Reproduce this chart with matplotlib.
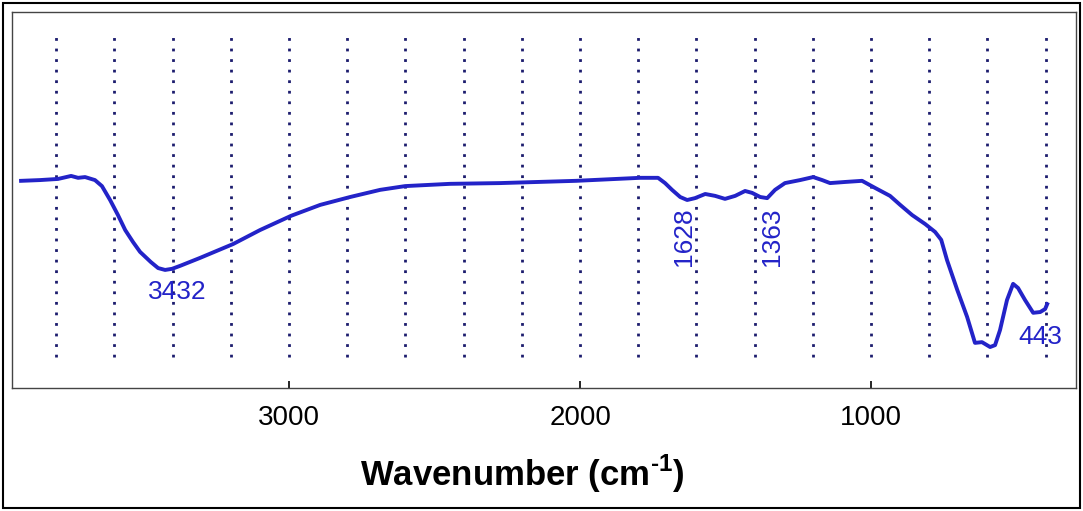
import numpy as np
import matplotlib
matplotlib.use("agg")
import matplotlib.pyplot as plt
from matplotlib.patches import Rectangle

plt.rcParams['font.family'] = ['Liberation Sans', 'DejaVu Sans']
plt.rcParams['mathtext.fontset'] = 'custom'
plt.rcParams['mathtext.rm'] = 'Liberation Sans:bold'
plt.rcParams['mathtext.bf'] = 'Liberation Sans:bold'

# FTIR spectrum (wavenumber cm-1, transmittance a.u.)
wavenumber = [3921, 3856, 3794, 3749, 3725, 3701, 3667, 3643, 3615, 3588,
              3563, 3536, 3512, 3475, 3450, 3426, 3402, 3374, 3306, 3192,
              3100, 2993, 2893, 2790, 2687, 2601, 2447, 2275, 2014, 1794,
              1732, 1708, 1684, 1656, 1632, 1605, 1570, 1536, 1502, 1467,
              1433, 1409, 1381, 1357, 1330, 1296, 1244, 1199, 1168, 1141,
              1089, 1031, 986, 935, 900, 859, 814, 780, 759, 739,
              704, 670, 643, 619, 591, 574, 557, 533, 512, 495,
              471, 443, 419, 402, 395]
transmittance = [55.1, 55.3, 55.6, 56.4, 55.9, 56.1, 55.3, 53.7, 50.0, 46.0,
                 42.0, 38.8, 36.2, 33.5, 31.9, 31.4, 31.7, 32.5, 34.6, 38.3,
                 42.0, 45.8, 48.7, 50.8, 52.7, 53.7, 54.3, 54.5, 55.1, 55.9,
                 55.9, 54.5, 52.7, 50.8, 50.0, 50.5, 51.6, 51.1, 50.3, 51.1,
                 52.4, 51.9, 50.8, 50.5, 52.7, 54.5, 55.3, 56.1, 55.3, 54.5,
                 54.8, 55.1, 53.2, 51.1, 48.7, 46.0, 43.6, 41.5, 39.4, 34.0,
                 26.1, 18.9, 12.0, 12.2, 10.9, 11.4, 15.4, 23.4, 27.7, 26.6,
                 23.4, 20.0, 20.2, 21.0, 22.3]

grid_positions = list(range(3800, 399, -200))
tick_positions = [3000, 2000, 1000]
tick_labels = ["3000", "2000", "1000"]

peak_labels = ["3432", "1628", "1363", "443"]
peak_x = [3385, 1643, 1340, 419]
peak_y = [25.5, 40.2, 40.2, 13.6]
peak_rot = [0, 90, 90, 0]

blue = '#2323c8'

fig = plt.figure(figsize=(10.83, 5.11), dpi=100)
ax = fig.add_axes([0.0111, 0.2407, 0.9824, 0.7358])

ax.vlines(grid_positions, 8.2, 94, colors='#1c1c6e', linestyles=(0, (1, 2.8)), linewidth=2.0)
ax.plot(wavenumber, transmittance, color=blue, linewidth=2.8, solid_joinstyle='round')

for lab, px, py, r in zip(peak_labels, peak_x, peak_y, peak_rot):
    ax.text(px, py, lab, color=blue, fontsize=19, rotation=r,
            ha='center', va='center')

ax.set_xlim(3952, 296)
ax.set_ylim(0, 100)
ax.set_yticks([])
ax.set_xticks(tick_positions)
ax.set_xticklabels(tick_labels, fontsize=20)
ax.tick_params(axis='x', direction='in', length=5, width=1.2, pad=12)
for s in ax.spines.values():
    s.set_color('#444444')
    s.set_linewidth(1.0)

fig.text(0.482, 0.073, "Wavenumber (cm$^{\\text{-1}}$)", fontsize=25, fontweight='bold',
         ha='center', va='center')

fig.patches.append(Rectangle((0.003, 0.005), 0.994, 0.99, transform=fig.transFigure,
                             fill=False, edgecolor='black', linewidth=1.5))

fig.savefig("out.png", dpi=100)
